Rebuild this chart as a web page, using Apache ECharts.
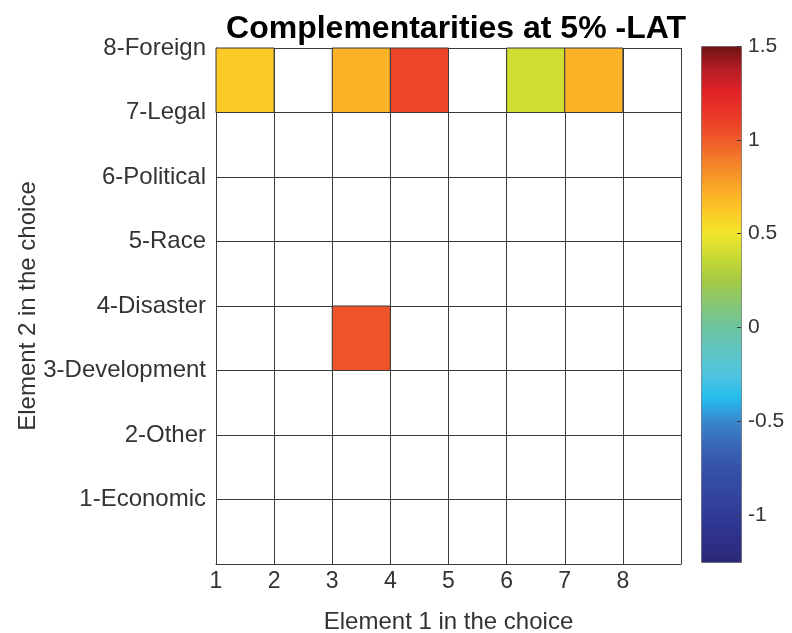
<!DOCTYPE html>
<html>
<head>
<meta charset="utf-8">
<script src="https://cdn.jsdelivr.net/npm/echarts@6/dist/echarts.min.js"></script>
<style>
  html, body { margin: 0; padding: 0; background: #fff; overflow: hidden; }
  #chart { width: 792px; height: 633px; }
</style>
</head>
<body>
<div id="chart"></div>
<script>
// Row labels (element 2), bottom to top
const rowLabels = ['1-Economic', '2-Other', '3-Development', '4-Disaster',
                   '5-Race', '6-Political', '7-Legal', '8-Foreign'];
// Column tick labels (element 1)
const colTicks = [1, 2, 3, 4, 5, 6, 7, 8];

// Significant complementarity cells: lower-left corner (column, row) and value
const cellCol   = [1,    3,    4,    6,    7,    3];
const cellRow   = [7,    7,    7,    7,    7,    3];
const cellValue = [0.62, 0.71, 1.08, 0.40, 0.71, 1.03];

// Colour scale limits and colour bar tick labels
const colorMin = -1.25;
const colorMax = 1.5;
const colorTicks = [-1, -0.5, 0, 0.5, 1, 1.5];

// Jet-like colour ramp, evenly spaced from colorMin to colorMax
const rampColors = [
  '#2c2878', '#2e3089', '#303b96', '#3346a0', '#3552a8', '#3866b6',
  '#3a86cb', '#22bdee', '#4fc4e0', '#60c5c4', '#6cc4a2', '#86c775',
  '#a4ca45', '#c8d933', '#f1e62c', '#fdc826', '#f9a727', '#f5832a',
  '#ef5b2a', '#ea3a28', '#e32327', '#b61e25', '#701214'
];

const cells = cellCol.map((c, i) => [c, cellRow[i], cellValue[i]]);

const textColor = '#333';
const lineColor = '#3a3a3a';
const fontFamily = 'Liberation Sans, Arial, sans-serif';

const chart = echarts.init(document.getElementById('chart'), null, {
  renderer: 'canvas', width: 792, height: 633
});

const isColorTick = v => colorTicks.some(t => Math.abs(t - v) < 1e-9);

chart.setOption({
  animation: false,
  backgroundColor: '#fff',
  textStyle: { fontFamily: fontFamily },
  title: {
    text: 'Complementarities at 5% -LAT',
    left: 451,
    textAlign: 'center',
    top: 8,
    textStyle: { fontSize: 32, fontWeight: 'bold', color: '#000', fontFamily: fontFamily }
  },
  grid: [
    { left: 216, width: 465, top: 48, height: 516, show: false, outerBoundsMode: 'none', containLabel: false },
    { left: 701, width: 40, top: 46, height: 516, show: false, outerBoundsMode: 'none', containLabel: false }
  ],
  xAxis: [
    {
      type: 'value', gridIndex: 0, min: 1, max: 9, interval: 1,
      axisLine: { show: true, lineStyle: { color: lineColor, width: 1 } },
      axisTick: { show: false },
      splitLine: { show: true, lineStyle: { color: lineColor, width: 1 } },
      axisLabel: {
        margin: 6, fontSize: 23, color: textColor,
        formatter: v => (colTicks.indexOf(v) >= 0 ? String(v) : '')
      },
      name: 'Element 1 in the choice',
      nameLocation: 'middle', nameGap: 46,
      nameTextStyle: { fontSize: 24, color: textColor }
    },
    { type: 'value', gridIndex: 1, min: 0, max: 1, show: false }
  ],
  yAxis: [
    {
      type: 'value', gridIndex: 0, min: 0, max: 8, interval: 1,
      axisLine: { show: true, lineStyle: { color: lineColor, width: 1 } },
      axisTick: { show: false },
      splitLine: { show: true, lineStyle: { color: lineColor, width: 1 } },
      axisLabel: {
        margin: 10, fontSize: 24, color: textColor,
        formatter: v => (v >= 1 && v <= 8 ? rowLabels[v - 1] : '')
      },
      name: 'Element 2 in the choice',
      nameLocation: 'middle', nameGap: 176,
      nameMoveOverlap: false,
      nameTextStyle: { fontSize: 24, color: textColor }
    },
    // colour bar labels
    {
      type: 'value', gridIndex: 1, position: 'right',
      min: colorMin, max: colorMax, interval: 0.25,
      z: 20,
      axisLine: { show: false },
      splitLine: { show: false },
      axisTick: { show: false },
      axisLabel: {
        margin: 7, fontSize: 21, color: textColor,
        customValues: colorTicks,
        formatter: v => (isColorTick(v) ? String(v) : '')
      }
    },
    // colour bar tick marks along the bar's right edge
    {
      type: 'value', gridIndex: 1, position: 'left', offset: -36,
      min: colorMin, max: colorMax, interval: 0.25,
      z: 20,
      axisLine: { show: false },
      splitLine: { show: false },
      axisLabel: { show: false },
      axisTick: {
        show: true, inside: true, length: 4,
        customValues: colorTicks,
        lineStyle: { color: lineColor }
      }
    }
  ],
  visualMap: {
    type: 'continuous',
    min: colorMin, max: colorMax,
    dimension: 2,
    seriesIndex: 0,
    calculable: false,
    left: 701, top: 46,
    itemWidth: 40, itemHeight: 516,
    padding: 0,
    z: 2,
    borderColor: '#666', borderWidth: 1,
    inRange: { color: rampColors }
  },
  series: [
    {
      type: 'custom',
      xAxisIndex: 0, yAxisIndex: 0,
      dimensions: ['col', 'row', 'value'],
      encode: { x: 0, y: 1 },
      data: cells,
      renderItem: (params, api) => {
        const c = api.value(0), r = api.value(1);
        const p0 = api.coord([c, r + 1]);
        const p1 = api.coord([c + 1, r]);
        return {
          type: 'rect',
          shape: { x: p0[0], y: p0[1], width: p1[0] - p0[0], height: p1[1] - p0[1] },
          style: { fill: api.visual('color'), stroke: lineColor, lineWidth: 1 }
        };
      }
    }
  ]
});
</script>
</body>
</html>
